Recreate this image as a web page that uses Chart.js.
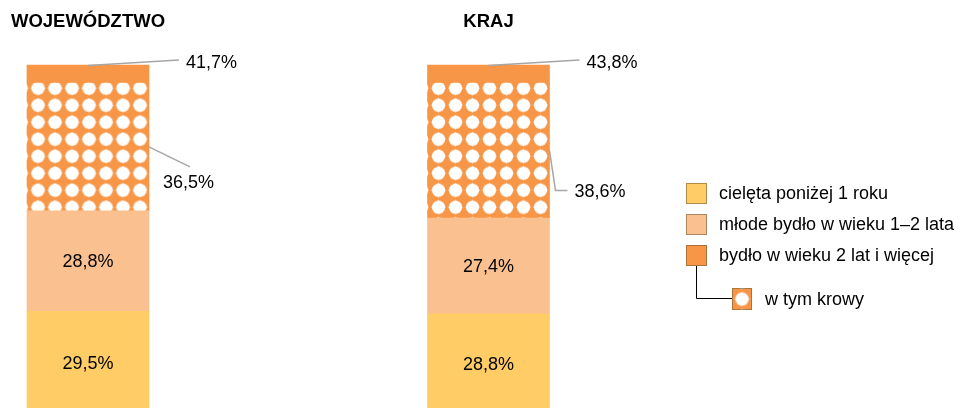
<!DOCTYPE html>
<html lang="pl">
<head>
<meta charset="UTF-8">
<title>Struktura stada bydła</title>
<script src="https://cdn.jsdelivr.net/npm/chart.js"></script>
<style>
  html, body { margin: 0; padding: 0; background: #fff; }
  #wrap { width: 964px; height: 408px; position: relative; }
</style>
</head>
<body>
<div id="wrap"><canvas id="myChart"></canvas></div>
<script>
const regions = ['WOJEWÓDZTWO', 'KRAJ'];
const seriesNames = ['cielęta poniżej 1 roku', 'młode bydło w wieku 1–2 lata', 'bydło w wieku 2 lat i więcej', 'w tym krowy'];
const cieleta = [29.5, 28.8];
const mlode = [28.8, 27.4];
const bydlo2 = [41.7, 43.8];
const krowy = [36.5, 38.6];
// part of "2 lat i więcej" that is not cows (plain orange cap)
const bydloReszta = bydlo2.map((v, i) => +(v - krowy[i]).toFixed(1));

const YELLOW = '#FFCC66', PEACH = '#FAC090', ORANGE = '#F79646';
const FONT = '"Liberation Sans", Arial, sans-serif';
const fmt = v => v.toFixed(1).replace('.', ',') + '%';

Chart.defaults.font.family = FONT;
Chart.defaults.color = '#000';

// orange tile with a white rounded diamond
function makeTile() {
    const c = document.createElement('canvas');
    c.width = 17; c.height = 17;
    const g = c.getContext('2d');
    g.fillStyle = ORANGE;
    g.fillRect(0, 0, 17, 17);
    g.fillStyle = '#fff';
    g.beginPath();
    g.moveTo(8.5, 1.2); g.lineTo(15.8, 8.5); g.lineTo(8.5, 15.8); g.lineTo(1.2, 8.5);
    g.closePath();
    g.fill();
    g.beginPath();
    g.arc(8.5, 8.5, 6.6, 0, Math.PI * 2);
    g.fill();
    return c;
}
const tile = makeTile();
const ctx = document.getElementById('myChart').getContext('2d');
const cowPatterns = regions.map(() => ctx.createPattern(tile, 'repeat'));
const swatchPattern = ctx.createPattern(tile, 'repeat');

const topLeader = { dx: 91, dy: -5, tx: 98, ty: -2 };
const cowLeaders = [
    { pts: [[0, 0], [41, 20]], tx: 14, ty: 36 },
    { pts: [[0, 0], [6, 40], [18, 40]], tx: 25, ty: 41.5 }
];

const labelPlugin = {
    id: 'labelPlugin',
    beforeDatasetsDraw(chart) {
        chart.getDatasetMeta(2).data.forEach((el, i) => {
            const left = el.x - el.width / 2;
            cowPatterns[i].setTransform(new DOMMatrix([1, 0, 0, 1, left + 11 - 8.5, el.y + 5 - 8.5]));
        });
    },
    afterDatasetsDraw(chart) {
        const c = chart.ctx;
        c.save();
        c.fillStyle = '#000';
        c.textBaseline = 'middle';

        // panel titles over the bars
        c.font = 'bold 18.5px ' + FONT;
        c.textAlign = 'center';
        chart.getDatasetMeta(0).data.forEach((el, i) => {
            c.fillText(chart.data.labels[i], el.x, 22);
        });

        c.font = '18px ' + FONT;
        c.strokeStyle = '#A6A6A6';
        c.lineWidth = 1.5;

        // values inside bars
        [[0, cieleta], [1, mlode]].forEach(([di, vals]) => {
            chart.getDatasetMeta(di).data.forEach((el, i) => {
                c.fillText(fmt(vals[i]), el.x, (el.y + el.base) / 2 + 1);
            });
        });

        c.textAlign = 'left';
        // total "2 lat i więcej" at the top
        chart.getDatasetMeta(3).data.forEach((el, i) => {
            c.beginPath();
            c.moveTo(el.x, el.y + 0.5);
            c.lineTo(el.x + topLeader.dx, el.y + topLeader.dy);
            c.stroke();
            c.fillText(fmt(bydlo2[i]), el.x + topLeader.tx, el.y + topLeader.ty);
        });
        // cows
        chart.getDatasetMeta(2).data.forEach((el, i) => {
            const rx = el.x + el.width / 2, my = (el.y + el.base) / 2;
            const L = cowLeaders[i];
            c.beginPath();
            L.pts.forEach(([px, py], k) => k ? c.lineTo(rx + px, my + py) : c.moveTo(rx + px, my + py));
            c.stroke();
            c.fillText(fmt(krowy[i]), rx + L.tx, my + L.ty);
        });
        c.restore();
    },
    afterDraw(chart) {
        const c = chart.ctx;
        const lx = 686, ly = 183, step = 31, sw = 21;
        c.save();
        c.font = '18px ' + FONT;
        c.textBaseline = 'middle';
        c.textAlign = 'left';
        [YELLOW, PEACH, ORANGE].forEach((col, k) => {
            const y = ly + k * step;
            c.fillStyle = col;
            c.fillRect(lx, y, sw, sw);
            c.strokeStyle = 'rgba(110,85,50,0.55)';
            c.lineWidth = 1;
            c.strokeRect(lx + 0.5, y + 0.5, sw - 1, sw - 1);
            c.fillStyle = '#000';
            c.fillText(seriesNames[k], lx + 33, y + sw / 2 + 1);
        });
        // connector to "w tym krowy"
        const sy = ly + 2 * step + sw;
        c.strokeStyle = '#000';
        c.lineWidth = 1;
        c.beginPath();
        c.moveTo(lx + 10.5, sy);
        c.lineTo(lx + 10.5, 298.5);
        c.lineTo(732, 298.5);
        c.stroke();
        swatchPattern.setTransform(new DOMMatrix([1, 0, 0, 1, 742 - 8.5, 299 - 8.5]));
        c.fillStyle = swatchPattern;
        c.fillRect(732, 288, 20, 22);
        c.strokeStyle = 'rgba(110,85,50,0.55)';
        c.strokeRect(732.5, 288.5, 19, 21);
        c.fillStyle = '#000';
        c.fillText(seriesNames[3], 765, 300);
        c.restore();
    }
};

new Chart(ctx, {
    type: 'bar',
    data: {
        labels: regions,
        datasets: [
            { label: seriesNames[0], data: cieleta, backgroundColor: YELLOW },
            { label: seriesNames[1], data: mlode, backgroundColor: PEACH },
            { label: seriesNames[3], data: krowy, backgroundColor: cowPatterns },
            { label: seriesNames[2], data: bydloReszta, backgroundColor: ORANGE }
        ]
    },
    options: {
        responsive: true,
        maintainAspectRatio: false,
        animation: false,
        events: [],
        layout: { padding: { left: 88, right: 475.5, top: 65, bottom: 0 } },
        datasets: { bar: { barThickness: 122, clip: false, borderWidth: 0 } },
        plugins: {
            legend: { display: false },
            tooltip: { enabled: false }
        },
        scales: {
            x: {
                display: false,
                stacked: true,
                offset: false
            },
            y: {
                display: false,
                stacked: true,
                beginAtZero: true,
                min: 1.85,
                max: 100
            }
        }
    },
    plugins: [labelPlugin]
});
</script>
</body>
</html>
